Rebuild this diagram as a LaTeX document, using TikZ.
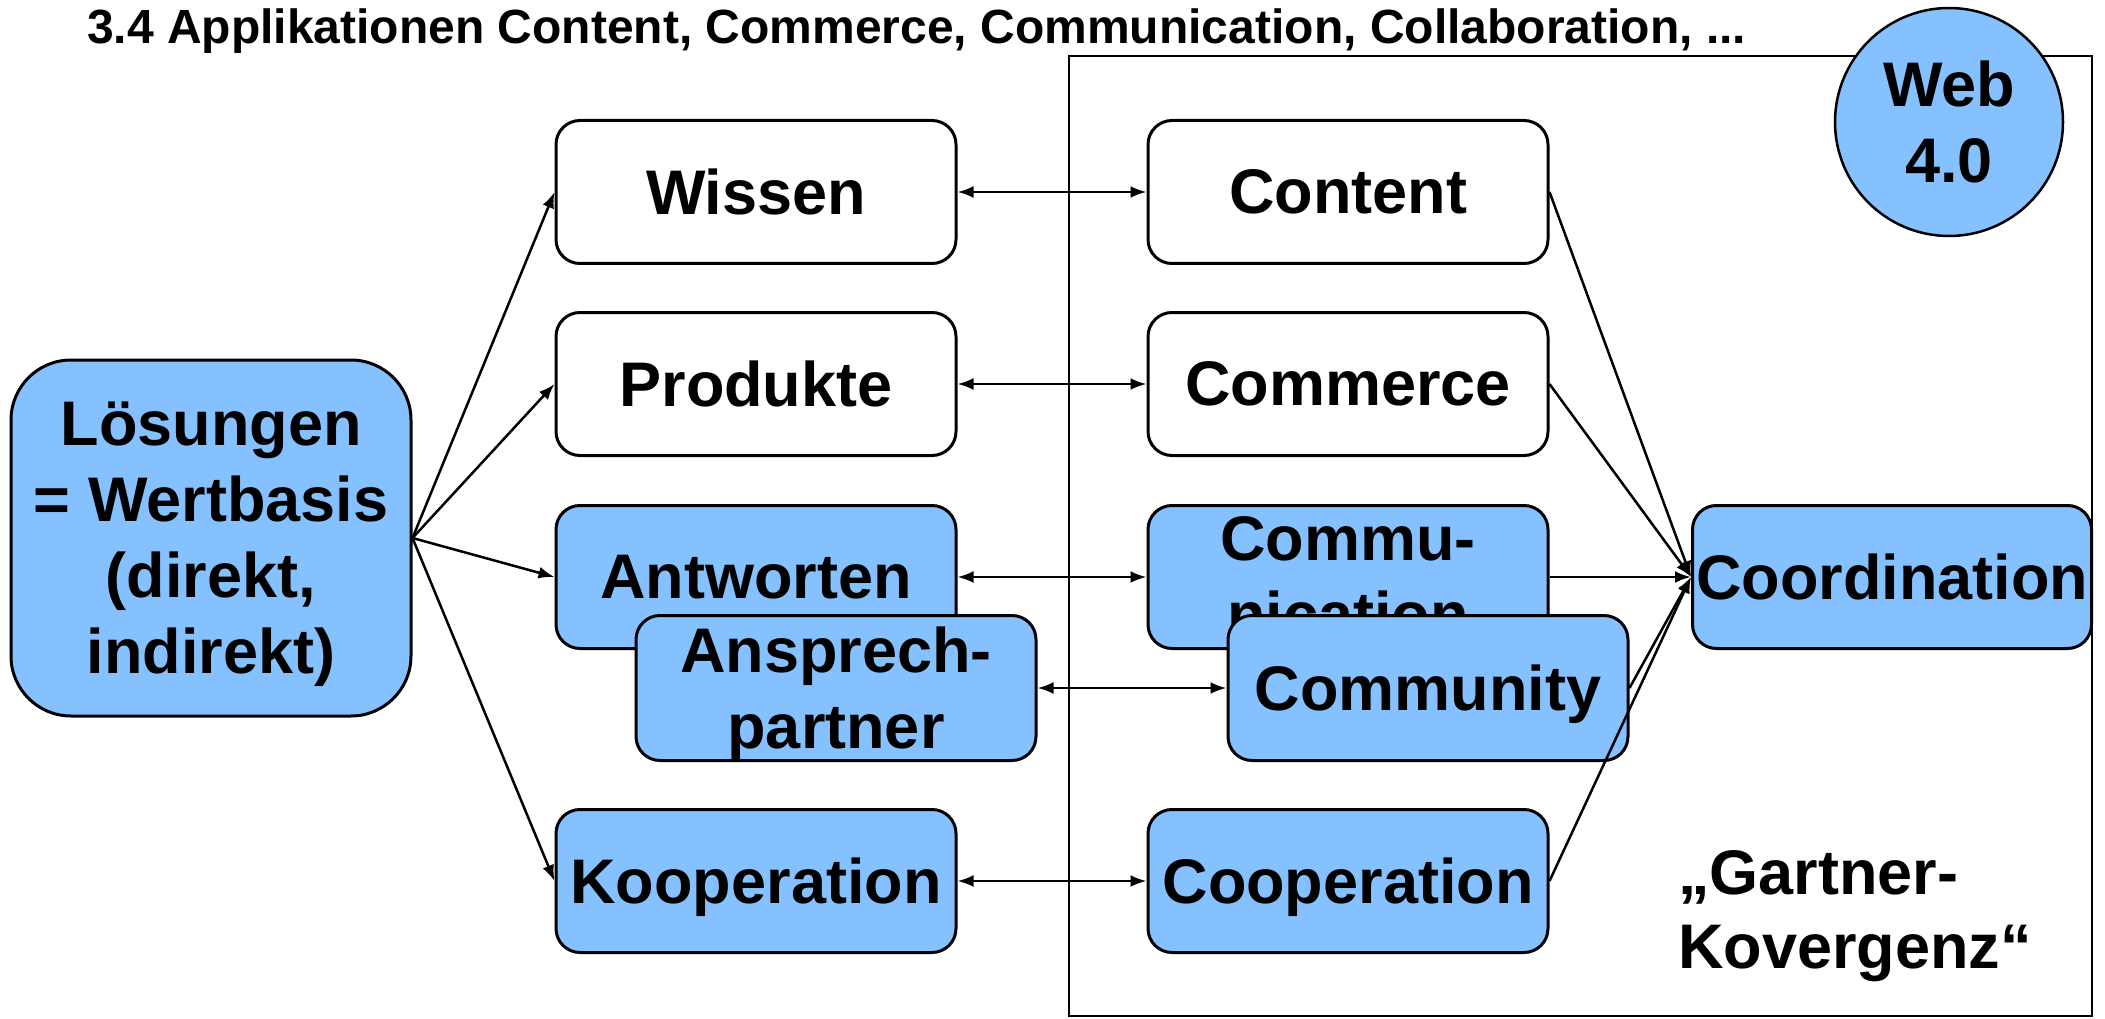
\documentclass[tikz,border=0pt]{standalone}
\usepackage{fontspec}
\setmainfont{Liberation Sans}
\usetikzlibrary{shapes.geometric, arrows.meta, positioning}
\definecolor{boxblue}{RGB}{133,193,255}

\tikzset{
  card/.style={draw, line width=3pt, rounded corners=24pt, minimum width=400pt,
    minimum height=143pt, inner sep=0pt, align=center, fill=white, text depth=0pt,
    font=\fontsize{63}{76}\selectfont\bfseries},
  bluecard/.style={card, fill=boxblue},
  link/.style={line width=2.5pt, -{Latex[length=16pt,width=12pt]}},
  dlink/.style={line width=2.5pt, {Latex[length=16pt,width=12pt]}-{Latex[length=16pt,width=12pt]}},
}

\begin{document}
\begin{tikzpicture}[x=1pt,y=-1pt]
\useasboundingbox (0,0) rectangle (2105,1019);

% title and frame
\node[anchor=base west, inner sep=0pt, font=\fontsize{48}{56}\selectfont\bfseries] (title) at (87,44)
  {3.4 Applikationen Content, Commerce, Communication, Collaboration, ...};
\draw[line width=2.5pt] (1069,56) rectangle (2092,1016);

% source
\node[bluecard, rounded corners=60pt, minimum height=356pt] (loesungen) at (211,538)
  {Lösungen\\= Wertbasis\\(direkt,\\indirekt)};

% left column
\node[card] (wissen) at (756,192) {Wissen};
\node[card] (produkte) at (756,384) {Produkte};
\node[bluecard] (antworten) at (756,577) {Antworten};
\node[bluecard, minimum height=145pt] (ansprech) at (836,688) {Ansprech-\\partner};
\node[bluecard] (kooperation) at (756,881) {Kooperation};

% right column
\node[card] (content) at (1348,192) {Content};
\node[card] (commerce) at (1348,384) {Commerce};
\node[bluecard] (communication) at (1348,577) {Commu-\\nication};
\node[bluecard, minimum height=145pt] (community) at (1428,688) {Community};
\node[bluecard] (cooperation) at (1348,881) {Cooperation};

\node[bluecard, minimum width=399pt] (coordination) at (1892,577) {Coordination};

\node[circle, draw, line width=2.5pt, fill=boxblue, minimum size=228pt,
  inner sep=0pt, align=center, font=\fontsize{63}{76}\selectfont\bfseries] (web) at (1949,122) {Web\\4.0};

\node[anchor=west, align=left, inner sep=0pt, font=\fontsize{63}{74}\selectfont\bfseries] (gartner) at (1678,916)
  {„Gartner-\\Kovergenz“};

% connectors
\foreach \t in {wissen, produkte, antworten, kooperation}
  \draw[link] (loesungen.east) -- (\t.west);
\foreach \a/\b in {wissen/content, produkte/commerce, antworten/communication,
                   ansprech/community, kooperation/cooperation}
  \draw[dlink] (\a.east) -- (\b.west);
\foreach \s in {content, commerce, communication, community, cooperation}
  \draw[link] (\s.east) -- (coordination.west);
\end{tikzpicture}
\end{document}
